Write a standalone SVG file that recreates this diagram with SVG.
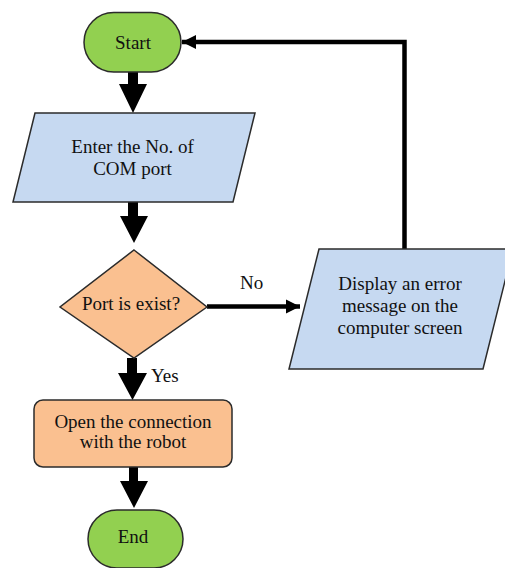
<svg xmlns="http://www.w3.org/2000/svg" width="505" height="568" viewBox="0 0 505 568">
<defs>
<style>
.term{fill:#92D050;stroke:#2b2b2b;stroke-width:1.5}
.io{fill:#C6D9F1;stroke:#2b2b2b;stroke-width:1.5}
.proc{fill:#FAC090;stroke:#2b2b2b;stroke-width:1.5}
.t{font-family:"Liberation Serif","Times New Roman",serif;font-size:19px;fill:#111;text-anchor:middle}
.lbl{font-family:"Liberation Serif","Times New Roman",serif;font-size:19px;fill:#111}
.blk{fill:#000}
.ln{fill:none;stroke:#000;stroke-width:4.5}
</style>
<marker id="ah" markerUnits="userSpaceOnUse" markerWidth="16" markerHeight="16" viewBox="0 0 16 16" refX="14" refY="8" orient="auto">
<path d="M0,1 L14,8 L0,15 Z" fill="#000"/>
</marker>
</defs>
<g id="connectors">
<path class="blk" d="M128,72 H138 V84 H147 L133,113 L119,84 H128 Z"/>
<path class="blk" d="M128,202 H138 V216 H148 L134,243 L120,216 H128 Z"/>
<path class="blk" d="M127,358 H137 V373 H147 L132.5,400 L118,373 H127 Z"/>
<path class="blk" d="M129,467 H138 V481 H148 L134,508 L120,481 H129 Z"/>
<path class="ln" d="M207,306.5 H300" marker-end="url(#ah)"/>
<path class="ln" d="M404.5,249 V42 H182" marker-end="url(#ah)"/>
<text class="lbl" x="240" y="289">No</text>
<text class="lbl" x="151" y="382">Yes</text>
</g>
<g id="start">
<rect class="term" x="84" y="12.5" width="97" height="59.5" rx="29.75"/>
<text class="t" x="133" y="49">Start</text>
</g>
<g id="enter">
<polygon class="io" points="35,113 255,113 233,202 13,202"/>
<text class="t" x="132.5" y="152.5">Enter the No. of</text>
<text class="t" x="132.5" y="175">COM port</text>
</g>
<g id="decision">
<polygon class="proc" points="134,250 207,307 134,358 60,307"/>
<text class="t" x="131" y="310">Port is exist?</text>
</g>
<g id="display">
<polygon class="io" points="319,249 513,249 483,369 289,369"/>
<text class="t" x="400" y="290">Display an error</text>
<text class="t" x="400" y="312">message on the</text>
<text class="t" x="400" y="333.5">computer screen</text>
</g>
<g id="open">
<rect class="proc" x="34" y="400" width="198" height="67" rx="9"/>
<text class="t" x="133" y="428">Open the connection</text>
<text class="t" x="133" y="448">with the robot</text>
</g>
<g id="end">
<rect class="term" x="88" y="510" width="95" height="58" rx="29"/>
<text class="t" x="133" y="543">End</text>
</g>
</svg>
